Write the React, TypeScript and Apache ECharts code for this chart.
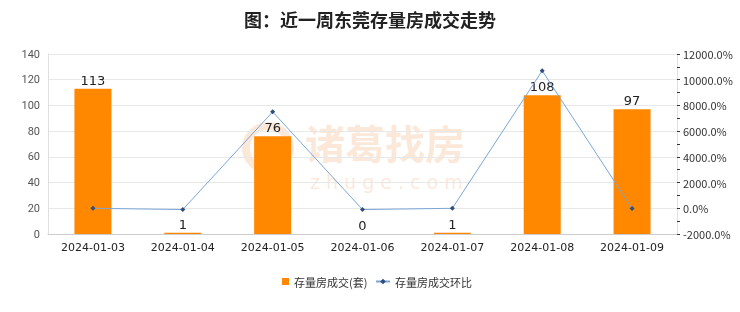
import React, { useEffect, useRef } from "react";
import * as echarts from "echarts";

const categories = ["2024-01-03", "2024-01-04", "2024-01-05", "2024-01-06", "2024-01-07", "2024-01-08", "2024-01-09"];
const deals = [113, 1, 76, 0, 1, 108, 97];
const ratio = [0, -99.1, 7500, -100, 0, 10700, -10.2];

const wm = "rgba(240,150,80,0.22)";

export default function App() {
  const ref = useRef<HTMLDivElement>(null);
  useEffect(() => {
    const chart = echarts.init(ref.current!, null, { renderer: "svg" });
    chart.setOption({
      animation: false,
      title: {
        text: "图：近一周东莞存量房成交走势",
        left: "center",
        top: 5,
        textStyle: { fontSize: 18, fontWeight: "bold", color: "#222", fontFamily: "Noto Sans CJK SC" },
      },
      graphic: [
        {
          type: "text",
          left: 305,
          top: 122,
          silent: true,
          z: -1,
          style: { text: "诸葛找房", fontSize: 40, lineHeight: 40, fontWeight: "bold", fill: wm, fontFamily: "Noto Sans CJK SC" },
        },
        {
          type: "text",
          left: 310,
          top: 172,
          silent: true,
          z: -1,
          style: { text: "z h u g e . c o m", fontSize: 19, lineHeight: 19, fill: wm, fontFamily: "DejaVu Sans" },
        },
        {
          type: "circle",
          shape: { cx: 268, cy: 148, r: 22 },
          silent: true,
          z: -1,
          style: { fill: "none", stroke: wm, lineWidth: 8 },
        },
      ],
      legend: [
        {
          left: 277,
          bottom: 20,
          itemWidth: 7,
          itemHeight: 7,
          textStyle: { fontSize: 11, color: "#333", fontFamily: "Noto Sans CJK SC" },
          data: [{ name: "存量房成交(套)", icon: "rect" }],
        },
        {
          left: 370,
          bottom: 20,
          itemWidth: 14,
          itemHeight: 7,
          textStyle: { fontSize: 11, color: "#333", fontFamily: "Noto Sans CJK SC" },
          data: [{ name: "存量房成交环比" }],
        },
      ],
      grid: { left: 48, right: 63, top: 54, bottom: 78 },
      xAxis: {
        type: "category",
        data: categories,
        axisLine: { lineStyle: { color: "#ccc" } },
        axisTick: { show: false },
        axisLabel: { color: "#222", fontSize: 11, margin: 8, interval: 0, fontFamily: "DejaVu Sans" },
      },
      yAxis: [
        {
          type: "value",
          min: 0,
          max: 140,
          interval: 20,
          axisLine: { show: true, lineStyle: { color: "#e0e0e0" } },
          axisTick: { show: false },
          axisLabel: { color: "#555", fontSize: 11, fontFamily: "Roboto" },
          splitLine: { lineStyle: { color: "#e8e8e8" } },
        },
        {
          type: "value",
          min: -2000,
          max: 12000,
          interval: 2000,
          axisLine: { show: true, lineStyle: { color: "#e0e0e0" } },
          axisTick: { show: true, length: 3, lineStyle: { color: "#333" } },
          minorTick: { show: true, splitNumber: 2, length: 3, lineStyle: { color: "#333" } },
          axisLabel: {
            color: "#333",
            fontSize: 11,
            margin: 6,
            fontFamily: "Noto Sans CJK SC",
            formatter: (v: number) => v.toFixed(1) + "%",
          },
          splitLine: { show: false },
        },
      ],
      series: [
        {
          name: "存量房成交(套)",
          type: "bar",
          data: deals,
          barWidth: 37,
          itemStyle: { color: "#FF8800" },
          label: { show: true, position: "top", color: "#222", fontSize: 13, distance: 2, fontFamily: "DejaVu Sans" },
        },
        {
          name: "存量房成交环比",
          type: "line",
          yAxisIndex: 1,
          data: ratio,
          symbol: "diamond",
          symbolSize: 5,
          lineStyle: { color: "#7aa6d6", width: 1 },
          itemStyle: { color: "#2f4f7a" },
        },
      ],
    });
    return () => chart.dispose();
  }, []);
  return <div ref={ref} style={{ position: "fixed", left: 0, top: 0, width: 740, height: 312 }} />;
}
